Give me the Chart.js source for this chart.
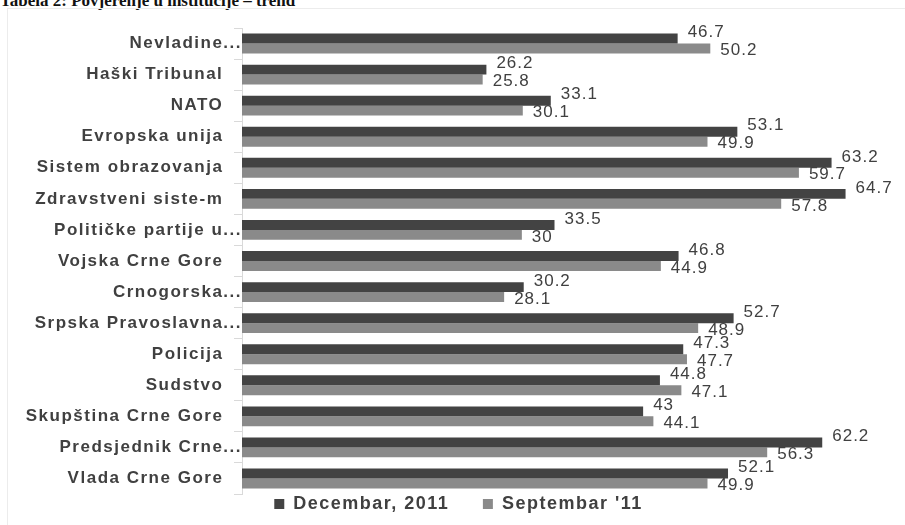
<!DOCTYPE html>
<html>
<head>
<meta charset="utf-8">
<script src="https://cdn.jsdelivr.net/npm/chart.js@4/dist/chart.umd.min.js"></script>
<style>
  body { margin: 0; background: #fff; width: 905px; height: 525px; overflow: hidden; position: relative; }
  #title { position: absolute; left: 0; top: -9px; font: bold 17px "Liberation Serif", serif; color: #111; white-space: nowrap; }
  #wrap { position: absolute; left: 7px; top: 8px; width: 897px; height: 516px; border-top: 1px solid #ececec; border-left: 1px solid #ececec; }
</style>
</head>
<body>
<div id="title">Tabela 2: Povjerenje u institucije – trend</div>
<div id="wrap"><canvas id="trustChart"></canvas></div>
<script>
const categories = [
  "Nevladine...",
  "Haški Tribunal   ",
  "NATO   ",
  "Evropska unija   ",
  "Sistem obrazovanja   ",
  "Zdravstveni siste-m   ",
  "Političke partije u...",
  "Vojska Crne Gore   ",
  "Crnogorska...",
  "Srpska Pravoslavna...",
  "Policija   ",
  "Sudstvo   ",
  "Skupština Crne Gore   ",
  "Predsjednik Crne...",
  "Vlada Crne Gore   ",
];
const december2011 = [46.7, 26.2, 33.1, 53.1, 63.2, 64.7, 33.5, 46.8, 30.2, 52.7, 47.3, 44.8, 43, 62.2, 52.1];
const september2011 = [50.2, 25.8, 30.1, 49.9, 59.7, 57.8, 30, 44.9, 28.1, 48.9, 47.7, 47.1, 44.1, 56.3, 49.9];
const seriesNames = ["Decembar, 2011", "Septembar '11"];

const textColor = "#404040";
const fontFamily = "'Liberation Sans', Arial, sans-serif";

// the source text is drawn a bit wide, so space the letters out
const spacing = {
  id: "spacing",
  beforeUpdate(chart) { chart.ctx.letterSpacing = "1.5px"; },
  beforeLayout(chart) { chart.ctx.letterSpacing = "1.5px"; },
  beforeDraw(chart) { chart.ctx.letterSpacing = "1.5px"; },
};

// value labels at the end of each bar
const valueLabels = {
  id: "valueLabels",
  afterDatasetsDraw(chart) {
    const ctx = chart.ctx;
    ctx.save();
    ctx.font = "17px " + fontFamily;
    ctx.letterSpacing = "1px";
    ctx.fillStyle = textColor;
    ctx.textAlign = "left";
    ctx.textBaseline = "middle";
    chart.data.datasets.forEach((ds, i) => {
      const meta = chart.getDatasetMeta(i);
      const shift = i === 0 ? -6 : 2;
      meta.data.forEach((bar, j) => {
        ctx.fillText(String(ds.data[j]), bar.x + 10, bar.y + shift);
      });
    });
    ctx.restore();
  },
};

const ctx = document.getElementById("trustChart").getContext("2d");

const trustChart = new Chart(ctx, {
  type: "bar",
  data: {
    labels: categories,
    datasets: [
      {
        label: seriesNames[0],
        data: december2011,
        backgroundColor: "#434343",
        barPercentage: 1,
        categoryPercentage: 0.64,
      },
      {
        label: seriesNames[1],
        data: september2011,
        backgroundColor: "#8a8a8a",
        barPercentage: 1,
        categoryPercentage: 0.64,
      },
    ],
  },
  options: {
    indexAxis: "y",
    responsive: true,
    maintainAspectRatio: false,
    animation: false,
    layout: {
      padding: { top: 19, right: 10, bottom: 2, left: 14 },
    },
    scales: {
      x: {
        display: false,
        min: 0,
        max: 70,
      },
      y: {
        afterFit: (scale) => {
          scale.width = 220;
        },
        border: { color: "#d9d9d9" },
        grid: {
          drawOnChartArea: false,
          color: "#d9d9d9",
          tickLength: 8,
        },
        ticks: {
          color: textColor,
          padding: -8,
          font: { family: fontFamily, size: 17, weight: "bold" },
        },
      },
    },
    plugins: {
      legend: {
        position: "bottom",
        labels: {
          color: textColor,
          boxWidth: 10,
          boxHeight: 10,
          padding: 1,
          font: { family: fontFamily, size: 18, weight: "bold" },
          // small padding keeps the legend tight to the axis, so widen the gap between items with spaces
          generateLabels: (chart) => {
            const items = Chart.defaults.plugins.legend.labels.generateLabels(chart);
            items.forEach((item, i) => {
              if (i < items.length - 1) item.text += "\u2003  ";
            });
            return items;
          },
        },
      },
      tooltip: { enabled: false },
    },
  },
  plugins: [spacing, valueLabels],
});
</script>
</body>
</html>
